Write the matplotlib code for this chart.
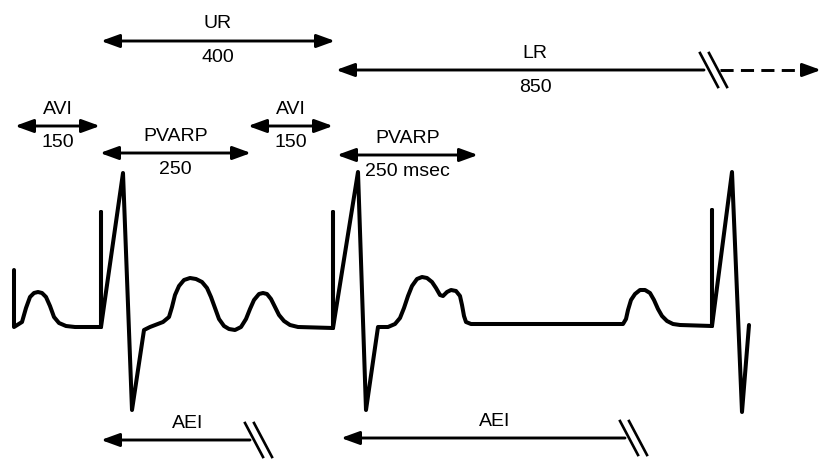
import matplotlib
matplotlib.use("Agg")
import matplotlib.pyplot as plt

plt.rcParams['font.family'] = ['Liberation Sans', 'DejaVu Sans']

# ECG trace (pixel coords, y grows downward)
wave_x = [14, 14, 22, 26, 30, 34, 38, 42, 46, 50, 54, 59, 66, 75, 101, 101, 101,
          123, 132, 144, 150, 163, 169, 172, 175, 179, 184, 190, 196, 202, 207, 211,
          215, 219, 224, 229, 235, 241, 246, 250, 254, 259, 263, 267, 271, 275, 279,
          284, 290, 298, 333, 333, 333, 358, 366, 378, 388, 395, 400, 404, 408, 412,
          417, 422, 427, 432, 436, 440, 443, 447, 451, 456, 460, 462, 464, 466, 471,
          623, 626, 628, 631, 635, 640, 645, 650, 654, 658, 662, 667, 673, 680, 712,
          712, 712, 732, 742, 749]
wave_y = [270, 327, 322, 308, 297, 293, 292, 293, 297, 306, 317, 323, 326, 327, 327, 212, 327,
          173, 410, 330, 327, 322, 317, 307, 295, 286, 280, 278, 279, 282, 288, 297,
          308, 319, 326, 329, 330, 327, 319, 309, 300, 294, 293, 294, 299, 307, 315,
          321, 325, 327, 328, 212, 328, 172, 410, 327, 327, 324, 318, 308, 296, 286,
          279, 277, 278, 282, 288, 295, 296, 292, 290, 291, 296, 305, 316, 322, 324,
          324, 319, 310, 300, 294, 290, 290, 293, 300, 309, 316, 321, 324, 325, 326,
          210, 326, 172, 412, 325]

# timing intervals (start, end, row) and their labels
interval_start = [101, 15, 100, 248, 337]
interval_end = [335, 100, 251, 333, 478]
interval_row = [41, 126, 153, 126, 155]
interval_name = ["UR", "AVI", "PVARP", "AVI", "PVARP"]
interval_value = ["400", "150", "250", "150", "250 msec"]

# lower rate interval: solid part, break, dashed continuation
lr_start, lr_break, lr_end, lr_row = 336, 704, 821, 70

# atrial escape intervals (arrow tip, break)
aei_tip = [101, 341]
aei_break = [250, 625]
aei_row = [440, 438]

fig = plt.figure(figsize=(8.21, 4.61), dpi=100)
ax = fig.add_axes([0, 0, 1, 1])
ax.set_xlim(0, 821)
ax.set_ylim(461, 0)
ax.axis('off')

ax.plot(wave_x, wave_y, color='black', lw=2.9, solid_joinstyle='round',
        solid_capstyle='round')

arrow_style = '<|-|>,head_length=1.1,head_width=0.4'
fs = 14

for x0, x1, y, name, val in zip(interval_start, interval_end, interval_row,
                                interval_name, interval_value):
    ax.annotate('', xy=(x1, y), xytext=(x0, y),
                arrowprops=dict(arrowstyle=arrow_style, color='black', lw=2.1,
                                shrinkA=0, shrinkB=0, mutation_scale=10))
    mid = (x0 + x1) / 2
    ax.text(mid, y - 17, name, ha='center', va='center', fontsize=fs)
    if val.endswith('msec'):
        ax.text(x0 + 28, y + 16, val, ha='left', va='center', fontsize=fs)
    else:
        ax.text(mid, y + 16, val, ha='center', va='center', fontsize=fs)


def break_marks(x, y):
    for dx in (0, 9):
        ax.plot([x - 9 + dx, x + 9 + dx], [y - 17, y + 17], color='black', lw=1.9)


# LR
ax.annotate('', xy=(lr_break, lr_row), xytext=(lr_start, lr_row),
            arrowprops=dict(arrowstyle='<|-,head_length=1.1,head_width=0.4',
                            color='black', lw=2.1, shrinkA=0, shrinkB=0,
                            mutation_scale=10))
ax.plot([lr_break + 16, lr_end - 14], [lr_row, lr_row], color='black', lw=2.1,
        dashes=(4.5, 2.5))
ax.annotate('', xy=(lr_end, lr_row), xytext=(lr_end - 16, lr_row),
            arrowprops=dict(arrowstyle='-|>,head_length=1.1,head_width=0.4',
                            color='black', lw=2.1, shrinkA=0, shrinkB=0,
                            mutation_scale=10))
break_marks(lr_break + 5, lr_row)
ax.text(535, lr_row - 17, "LR", ha='center', va='center', fontsize=fs)
ax.text(535, lr_row + 17, "850", ha='center', va='center', fontsize=fs)

# AEI
for tip, brk, y in zip(aei_tip, aei_break, aei_row):
    ax.annotate('', xy=(tip, y), xytext=(brk, y),
                arrowprops=dict(arrowstyle='-|>,head_length=1.1,head_width=0.4',
                                color='black', lw=2.1, shrinkA=0, shrinkB=0,
                                mutation_scale=10))
    break_marks(brk + 4, y)
    ax.text((tip + brk) / 2 + 12, y - 17, "AEI", ha='center', va='center', fontsize=fs)

fig.savefig('out.png', dpi=100)
